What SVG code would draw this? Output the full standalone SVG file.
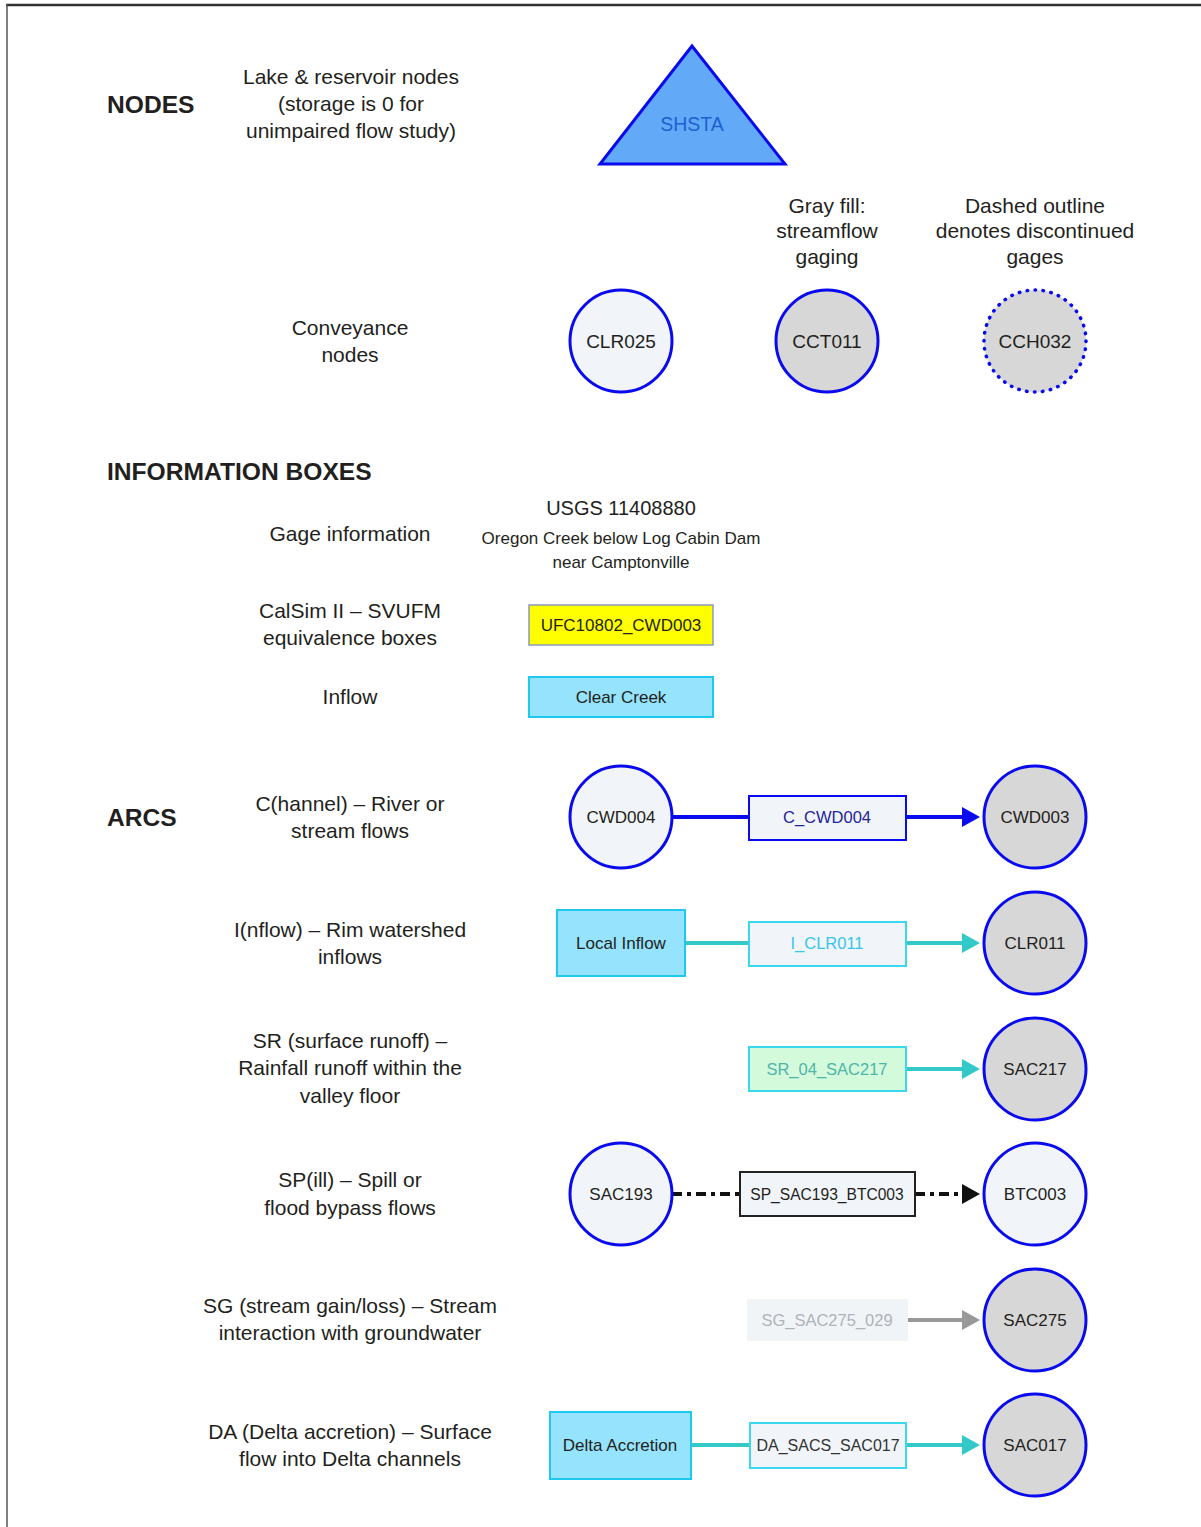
<svg xmlns="http://www.w3.org/2000/svg" width="1201" height="1527" viewBox="0 0 1201 1527">
<style>
text{font-family:"Liberation Sans",Arial,sans-serif;fill:#231f20;text-anchor:middle}
.h{font-weight:bold;font-size:24.6px;text-anchor:start}
.d{font-size:21px}
.cl{font-size:19px}
.ca{font-size:17px}
.bx{font-size:16.5px}
.cir{stroke:#0a0aee;stroke-width:3}
.lt{fill:#f1f5f9}
.gy{fill:#d7d7d7}
.cy{fill:#95e3fc;stroke:#1fc8ef;stroke-width:2}
.ab{fill:#f1f5f9;stroke-width:2}
</style>
<defs>
<marker id="ahB" markerUnits="userSpaceOnUse" markerWidth="20" markerHeight="22" refX="0" refY="11" orient="auto"><path d="M0,1 L18,11 L0,21 z" fill="#0a0aee"/></marker>
<marker id="ahT" markerUnits="userSpaceOnUse" markerWidth="20" markerHeight="22" refX="0" refY="11" orient="auto"><path d="M0,1 L18,11 L0,21 z" fill="#33c9c9"/></marker>
<marker id="ahK" markerUnits="userSpaceOnUse" markerWidth="20" markerHeight="22" refX="0" refY="11" orient="auto"><path d="M0,1 L18,11 L0,21 z" fill="#111"/></marker>
<marker id="ahG" markerUnits="userSpaceOnUse" markerWidth="20" markerHeight="22" refX="0" refY="11" orient="auto"><path d="M0,1 L18,11 L0,21 z" fill="#999"/></marker>
</defs>
<rect width="1201" height="1527" fill="#fff"/>
<g id="frame">
<line x1="6" y1="5" x2="1201" y2="5" stroke="#333" stroke-width="2.5"/>
<line x1="7" y1="4" x2="7" y2="1527" stroke="#555" stroke-width="1.5"/>
</g>
<g id="headings">
<text class="h" x="107" y="113">NODES</text>
<text class="h" x="107" y="480">INFORMATION BOXES</text>
<text class="h" x="107" y="826">ARCS</text>
</g>
<g id="descriptions" class="d">
<text class="d" x="351" y="84">Lake &amp; reservoir nodes</text>
<text class="d" x="351" y="111">(storage is 0 for</text>
<text class="d" x="351" y="138">unimpaired flow study)</text>
<text class="d" x="350" y="335">Conveyance</text>
<text class="d" x="350" y="362">nodes</text>
<text class="d" x="827" y="213">Gray fill:</text>
<text class="d" x="827" y="238">streamflow</text>
<text class="d" x="827" y="264">gaging</text>
<text class="d" x="1035" y="213">Dashed outline</text>
<text class="d" x="1035" y="238">denotes discontinued</text>
<text class="d" x="1035" y="264">gages</text>
<text class="d" x="350" y="541">Gage information</text>
<text class="d" x="350" y="618">CalSim II – SVUFM</text>
<text class="d" x="350" y="645">equivalence boxes</text>
<text class="d" x="350" y="704">Inflow</text>
<text class="d" x="350" y="811">C(hannel) – River or</text>
<text class="d" x="350" y="838">stream flows</text>
<text class="d" x="350" y="937">I(nflow) – Rim watershed</text>
<text class="d" x="350" y="964">inflows</text>
<text class="d" x="350" y="1048">SR (surface runoff) –</text>
<text class="d" x="350" y="1075">Rainfall runoff within the</text>
<text class="d" x="350" y="1103">valley floor</text>
<text class="d" x="350" y="1187">SP(ill) – Spill or</text>
<text class="d" x="350" y="1215">flood bypass flows</text>
<text class="d" x="350" y="1313">SG (stream gain/loss) – Stream</text>
<text class="d" x="350" y="1340">interaction with groundwater</text>
<text class="d" x="350" y="1439">DA (Delta accretion) – Surface</text>
<text class="d" x="350" y="1466">flow into Delta channels</text>
</g>
<g id="node-SHSTA">
<polygon points="692,46 600,164 785,164" fill="#62aaf8" stroke="#0a0aee" stroke-width="3" stroke-linejoin="miter"/>
<text x="692" y="131" style="font-size:19.5px;fill:#2060d0">SHSTA</text>
</g>
<g id="node-CLR025"><circle class="cir lt" cx="621" cy="341" r="51"/><text class="cl" x="621" y="348">CLR025</text></g>
<g id="node-CCT011"><circle class="cir gy" cx="827" cy="341" r="51"/><text class="cl" x="827" y="348">CCT011</text></g>
<g id="node-CCH032"><circle cx="1035" cy="341" r="51" class="gy" stroke="#0a0aee" stroke-width="3.5" stroke-linecap="round" stroke-dasharray="0.5 7.5"/><text class="cl" x="1035" y="348">CCH032</text></g>
<g id="info-gage">
<text x="621" y="515" style="font-size:20px">USGS 11408880</text>
<text x="621" y="544" style="font-size:17px">Oregon Creek below Log Cabin Dam</text>
<text x="621" y="568" style="font-size:17px">near Camptonville</text>
</g>
<g id="info-equiv"><rect x="529" y="605" width="184" height="40" fill="#ffff00" stroke="#8a9bbd" stroke-width="1.5"/><text x="621" y="631" style="font-size:17px">UFC10802_CWD003</text></g>
<g id="info-inflow"><rect class="cy" x="529" y="677" width="184" height="40"/><text x="621" y="703" style="font-size:17px">Clear Creek</text></g>
<g id="connectors">
<line x1="672" y1="817" x2="749" y2="817" stroke="#0a0aee" stroke-width="4"/>
<line x1="906" y1="817" x2="962" y2="817" stroke="#0a0aee" stroke-width="4" marker-end="url(#ahB)"/>
<line x1="685" y1="943" x2="749" y2="943" stroke="#33c9c9" stroke-width="4"/>
<line x1="906" y1="943" x2="962" y2="943" stroke="#33c9c9" stroke-width="4" marker-end="url(#ahT)"/>
<line x1="906" y1="1069" x2="962" y2="1069" stroke="#33c9c9" stroke-width="4" marker-end="url(#ahT)"/>
<line x1="672" y1="1194" x2="740" y2="1194" stroke="#111" stroke-width="4" stroke-dasharray="10 5 4 5"/>
<line x1="915" y1="1194" x2="962" y2="1194" stroke="#111" stroke-width="4" stroke-dasharray="10 5 4 5" marker-end="url(#ahK)"/>
<line x1="908" y1="1320" x2="962" y2="1320" stroke="#999" stroke-width="4" marker-end="url(#ahG)"/>
<line x1="691" y1="1445" x2="750" y2="1445" stroke="#33c9c9" stroke-width="4"/>
<line x1="906" y1="1445" x2="962" y2="1445" stroke="#33c9c9" stroke-width="4" marker-end="url(#ahT)"/>
</g>
<g id="node-CWD004"><circle class="cir lt" cx="621" cy="817" r="51"/><text class="ca" x="621" y="823">CWD004</text></g>
<g id="arc-C_CWD004"><rect class="ab" x="749" y="796" width="157" height="44" stroke="#0a0aee"/><text class="bx" x="827" y="823" style="fill:#24249a">C_CWD004</text></g>
<g id="node-CWD003"><circle class="cir gy" cx="1035" cy="817" r="51"/><text class="ca" x="1035" y="823">CWD003</text></g>
<g id="inflow-local"><rect class="cy" x="557" y="910" width="128" height="66"/><text x="621" y="949" style="font-size:17px">Local Inflow</text></g>
<g id="arc-I_CLR011"><rect class="ab" x="749" y="922" width="157" height="44" stroke="#3ad8ee"/><text class="bx" x="827" y="949" style="fill:#36c6ec">I_CLR011</text></g>
<g id="node-CLR011"><circle class="cir gy" cx="1035" cy="943" r="51"/><text class="ca" x="1035" y="949">CLR011</text></g>
<g id="arc-SR_04_SAC217"><rect x="749" y="1047" width="157" height="44" fill="#d3fadb" stroke="#3ad8ee" stroke-width="2"/><text class="bx" x="827" y="1075" style="fill:#4fb5a8">SR_04_SAC217</text></g>
<g id="node-SAC217"><circle class="cir gy" cx="1035" cy="1069" r="51"/><text class="ca" x="1035" y="1075">SAC217</text></g>
<g id="node-SAC193"><circle class="cir lt" cx="621" cy="1194" r="51"/><text class="ca" x="621" y="1200">SAC193</text></g>
<g id="arc-SP_SAC193_BTC003"><rect class="ab" x="740" y="1172" width="175" height="44" stroke="#222"/><text x="827" y="1200" style="font-size:15.6px">SP_SAC193_BTC003</text></g>
<g id="node-BTC003"><circle class="cir lt" cx="1035" cy="1194" r="51"/><text class="ca" x="1035" y="1200">BTC003</text></g>
<g id="arc-SG_SAC275_029"><rect x="747" y="1299" width="161" height="42" fill="#f1f4f7"/><text class="bx" x="827" y="1326" style="fill:#aeb3b8">SG_SAC275_029</text></g>
<g id="node-SAC275"><circle class="cir gy" cx="1035" cy="1320" r="51"/><text class="ca" x="1035" y="1326">SAC275</text></g>
<g id="inflow-delta"><rect class="cy" x="550" y="1412" width="141" height="67"/><text x="620" y="1451" style="font-size:17px">Delta Accretion</text></g>
<g id="arc-DA_SACS_SAC017"><rect class="ab" x="750" y="1423" width="156" height="45" stroke="#3ad8ee"/><text x="828" y="1451" style="font-size:16px;fill:#333">DA_SACS_SAC017</text></g>
<g id="node-SAC017"><circle class="cir gy" cx="1035" cy="1445" r="51"/><text class="ca" x="1035" y="1451">SAC017</text></g>
</svg>
